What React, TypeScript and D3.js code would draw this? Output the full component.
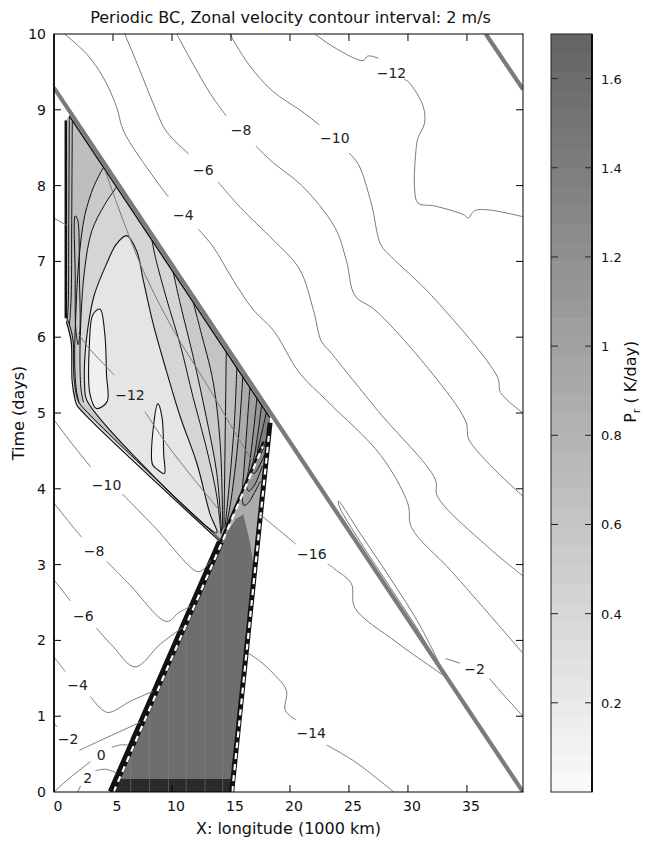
import React, { useEffect, useRef } from "react";
import * as d3 from "d3";

type Pt = [number, number];

// ---------------- axes ----------------
const xTicks = [0, 5, 10, 15, 20, 25, 30, 35];
const tTicks = [0, 1, 2, 3, 4, 5, 6, 7, 8, 9, 10];
const cbTicks = [0.2, 0.4, 0.6, 0.8, 1, 1.2, 1.4, 1.6];

// ---------------- front (thick gray line), periodic wrap ----------------
const front: Pt[] = [[0, 9.29], [39.75, 0]];
const frontWrap: Pt[] = [[36.6, 10], [39.75, 9.27]];

// ---------------- zonal velocity contours, upper family ----------------
const uM12a: Pt[] = [[22.1, 10], [24.0, 9.8], [26.2, 9.65], [26.6, 9.71], [27.5, 9.68]];
const uM12b: Pt[] = [[29.7, 9.4], [30.1, 9.36], [31.3, 9.04], [31.4, 8.82], [30.85, 8.63], [30.7, 8.5], [30.56, 7.96], [30.85, 7.77], [32.3, 7.73], [34.8, 7.61], [35.1, 7.57], [35.65, 7.67], [36.8, 7.68], [39.75, 7.59]];
const uM10a: Pt[] = [[14.9, 10], [16.5, 9.6], [18.5, 9.25], [21.0, 8.98], [22.5, 8.8]];
const uM10b: Pt[] = [[25.0, 8.43], [25.8, 8.28], [26.9, 7.76], [27.7, 7.22], [28.6, 7.06], [32.0, 6.55], [37.6, 5.47], [37.85, 5.27], [39.75, 5.0]];
const uM8a: Pt[] = [[10.4, 10], [11.8, 9.6], [13.3, 9.2], [14.6, 8.92]];
const uM8b: Pt[] = [[17.1, 8.52], [18.6, 8.3], [21.0, 8.0], [23.8, 7.45], [24.8, 7.0], [25.5, 6.55], [27.2, 6.36], [31.7, 5.59], [34.9, 4.89], [35.2, 4.64], [39.75, 3.9]];
const uM6a: Pt[] = [[6.0, 10], [7.2, 9.55], [8.5, 9.05], [9.5, 8.72], [11.4, 8.42]];
const uM6b: Pt[] = [[13.9, 8.05], [15.8, 7.71], [18.6, 7.28], [20.8, 6.9], [22.0, 6.35], [22.65, 5.95], [23.5, 5.79], [27.5, 5.02], [32.3, 4.13], [32.5, 3.9], [36.8, 3.23], [39.75, 2.85]];
const uM4a: Pt[] = [[0.9, 10], [2.8, 9.73], [4.2, 9.42], [5.3, 9.04], [5.9, 8.72], [8.5, 8.1], [9.7, 7.85]];
const uM4b: Pt[] = [[12.2, 7.43], [13.5, 7.19], [15.2, 6.75], [16.9, 6.36], [18.6, 6.09], [20.8, 5.53], [23.2, 5.15], [27.7, 4.44], [30.0, 3.8], [30.3, 3.49], [33.7, 2.91], [39.75, 1.83]];

// lower right family
const uM2a: Pt[] = [[33.2, 1.76], [34.4, 1.7]];
const uM2b: Pt[] = [[36.9, 1.5], [38.0, 1.3], [39.75, 1.0]];
const uM16a: Pt[] = [[17.46, 3.66], [19.5, 3.4], [20.5, 3.27]];
const uM16b: Pt[] = [[23.2, 3.01], [23.8, 2.94], [25.2, 2.75], [25.5, 2.43], [29.0, 1.98], [32.8, 1.56], [33.15, 1.52]];
const uM14a: Pt[] = [[16.5, 1.83], [17.5, 1.72], [18.6, 1.56], [19.7, 1.34], [19.6, 1.08], [20.5, 0.95]];
const uM14b: Pt[] = [[23.1, 0.62], [25.5, 0.4], [28.8, 0]];
const lens: Pt[] = [[24.1, 3.84], [26.0, 3.4], [28.5, 2.82], [31.0, 2.2], [33.15, 1.52], [31.0, 2.1], [28.5, 2.7], [26.0, 3.29], [24.2, 3.76]];

// lower left family
const lM10a: Pt[] = [[0, 4.91], [1.5, 4.6], [3.1, 4.29]];
const lM10b: Pt[] = [[5.8, 3.93], [8.5, 3.5], [12.1, 2.91], [12.6, 2.93], [13.3, 3.06]];
const lM8a: Pt[] = [[0, 3.81], [1.6, 3.5], [2.35, 3.36]];
const lM8b: Pt[] = [[4.5, 3.04], [6.5, 2.72], [9.55, 2.25], [10.6, 2.37], [11.6, 2.45]];
const lM6a: Pt[] = [[0, 2.8], [1.0, 2.6], [1.4, 2.52]];
const lM6b: Pt[] = [[3.6, 2.16], [5.0, 1.92], [6.86, 1.65], [9.0, 1.95], [10.9, 2.17]];
const lM4a: Pt[] = [[0, 1.78], [0.8, 1.62], [0.95, 1.59]];
const lM4b: Pt[] = [[3.1, 1.26], [4.5, 1.05], [6.5, 1.2], [8.4, 1.33]];
const lM2a: Pt[] = [[0, 0.91], [0.25, 0.86]];
const lM2b: Pt[] = [[2.15, 0.55], [4.5, 0.72], [7.3, 0.92]];
const l0a: Pt[] = [[0, 0], [1.2, 0.17], [3.1, 0.4]];
const l0b: Pt[] = [[4.9, 0.59], [5.6, 0.62], [6.3, 0.62]];
const l2a: Pt[] = [[2.0, 0], [2.25, 0.08]];
const l2b: Pt[] = [[3.5, 0.28], [4.4, 0.3], [5.3, 0.25]];

// inside the heating region
const roofM12a: Pt[] = [[2.05, 6.05], [3.0, 5.85], [4.5, 5.6], [5.1, 5.5]];
const roofM12b: Pt[] = [[7.7, 5.02], [9.5, 4.6], [12.0, 4.1], [14.1, 3.7]];
const roofDiag: Pt[] = [[4.33, 8.2], [7.3, 6.97], [10.1, 6.1], [12.9, 5.39], [15.2, 4.78], [16.9, 4.34]];
const leftStub: Pt[] = [[0, 7.57], [1.05, 7.48]];

const velLabels = [
  { text: "−12", x: 28.6, t: 9.48 },
  { text: "−10", x: 23.8, t: 8.63 },
  { text: "−8", x: 15.85, t: 8.73 },
  { text: "−6", x: 12.65, t: 8.21 },
  { text: "−4", x: 10.96, t: 7.61 },
  { text: "−12", x: 6.44, t: 5.24 },
  { text: "−10", x: 4.46, t: 4.05 },
  { text: "−8", x: 3.4, t: 3.18 },
  { text: "−6", x: 2.49, t: 2.32 },
  { text: "−4", x: 2.0, t: 1.41 },
  { text: "−2", x: 1.2, t: 0.7 },
  { text: "0", x: 4.0, t: 0.49 },
  { text: "2", x: 2.85, t: 0.19 },
  { text: "−16", x: 21.85, t: 3.14 },
  { text: "−14", x: 21.8, t: 0.78 },
  { text: "−2", x: 35.65, t: 1.62 },
];

// ---------------- P_r shading (K/day) ----------------
const roofOuter: Pt[] = [[1.0, 8.86], [1.3, 8.92], [18.3, 4.94], [18.31, 4.87], [17.26, 3.3], [16.13, 1.6], [15.06, 0], [4.85, 0], [14.1, 3.3], [2.2, 5.06], [1.7, 5.25], [1.5, 5.9], [1.05, 6.2]];
const capA: Pt[] = [[4.2, 8.24], [14.6, 5.81], [14.55, 5.2], [14.5, 4.6], [14.45, 4.0], [14.4, 3.45], [2.15, 5.12], [1.9, 5.3], [1.75, 5.7], [1.85, 6.3], [2.1, 7.0], [2.6, 7.6], [3.4, 8.0]];
const capB: Pt[] = [[5.3, 7.98], [10.1, 6.86], [10.7, 6.44], [11.8, 5.74], [12.9, 4.95], [13.8, 4.2], [14.2, 3.42], [2.5, 5.14], [2.3, 5.3], [2.2, 5.7], [2.3, 6.3], [2.6, 6.9], [3.2, 7.4], [4.3, 7.75]];
const peak: Pt[] = [[6.16, 7.34], [7.0, 7.14], [7.57, 6.75], [8.4, 6.18], [9.5, 5.57], [10.7, 4.95], [12.1, 4.34], [13.2, 3.68], [13.8, 3.42], [2.8, 5.16], [2.6, 5.35], [2.6, 5.7], [2.85, 6.1], [3.4, 6.55], [4.46, 6.97], [5.3, 7.23]];
const tongue1: Pt[] = [[3.05, 5.25], [3.0, 5.9], [3.3, 6.3], [3.9, 6.37], [4.3, 6.05], [4.45, 5.5], [4.5, 5.15], [3.6, 5.06]];
const tongue2: Pt[] = [[8.35, 4.32], [8.45, 4.85], [8.8, 5.12], [9.15, 4.95], [9.3, 4.45], [9.35, 4.2], [8.8, 4.25]];
const stripLoop: Pt[] = [[1.8, 7.6], [2.0, 7.55], [2.15, 6.8], [2.2, 6.1], [2.05, 5.9], [1.85, 6.1], [1.8, 6.8]];

const f1: Pt[] = [[8.3, 7.28], [8.6, 7.05], [9.55, 6.5], [10.7, 5.9], [11.8, 5.2], [12.9, 4.55], [13.8, 3.9], [14.15, 3.4]];
const f2: Pt[] = [[10.1, 6.86], [10.7, 6.44], [11.8, 5.74], [12.9, 4.95], [13.8, 4.2], [14.2, 3.42]];
const f3: Pt[] = [[11.8, 6.46], [12.4, 6.1], [13.5, 5.4], [14.1, 4.56], [14.3, 3.45]];
const f4: Pt[] = [[14.6, 5.81], [14.55, 5.2], [14.5, 4.6], [14.45, 4.0], [14.4, 3.48]];
const f5: Pt[] = [[15.5, 5.6], [15.3, 4.9], [15.0, 4.3], [14.7, 3.8], [14.5, 3.5]];
const f6: Pt[] = [[16.0, 5.48], [15.7, 4.8], [15.3, 4.2], [14.9, 3.75], [14.6, 3.52]];
const f7: Pt[] = [[16.6, 5.34], [16.35, 4.8], [16.1, 4.25], [15.95, 3.9], [16.1, 3.78], [16.5, 3.82], [17.0, 3.95], [17.5, 4.1]];
const f8: Pt[] = [[17.2, 5.2], [16.9, 4.75], [16.55, 4.3], [16.3, 4.05], [16.5, 3.97], [17.0, 4.05], [17.65, 4.3]];
const f9: Pt[] = [[17.6, 5.11], [17.3, 4.75], [17.0, 4.45], [16.75, 4.25], [16.95, 4.2], [17.4, 4.3], [17.85, 4.45]];
const f10: Pt[] = [[18.0, 5.01], [17.7, 4.8], [17.4, 4.6], [17.25, 4.48], [17.45, 4.45], [17.9, 4.6], [18.2, 4.75]];
const fanLines = [f1, f2, f3, f4, f5, f6, f7, f8, f9, f10];
const fanValues = [0.42, 0.55, 0.62, 0.68, 0.78, 0.9, 1.02, 1.14, 1.26, 1.38];

const wedgeClose: Pt[] = [[15.4, 3.6], [16.05, 3.66], [17.0, 2.9], [17.26, 3.3], [18.31, 4.87], [18.3, 4.94]];
const bandClose: Pt[] = [[18.31, 4.87], [18.3, 4.94]];

const darkWedge: Pt[] = [[4.85, 0], [14.1, 3.3], [15.4, 3.6], [16.05, 3.66], [16.6, 3.3], [17.0, 2.9], [16.5, 2.1], [16.0, 1.4], [15.5, 0.7], [15.06, 0]];
const bottomStrip: Pt[] = [[4.85, 0], [5.3, 0.17], [15.17, 0.17], [15.06, 0]];
const gridX = [6.5, 8.1, 9.7, 11.2, 12.8, 14.3];

const roofTop: Pt[] = [[1.3, 8.92], [18.3, 4.94]];
const roofLeft: Pt[] = [[1.0, 8.86], [1.0, 6.25]];
const stripA: Pt[] = [[1.3, 8.9], [1.25, 7.5], [1.2, 6.4], [1.1, 6.2]];
const stripB: Pt[] = [[1.55, 8.85], [1.5, 7.5], [1.45, 6.5], [1.3, 6.15]];
const roofBottom1: Pt[] = [[1.05, 6.2], [1.45, 5.95], [1.55, 5.4], [1.9, 5.12], [2.2, 5.05], [14.1, 3.3]];
const roofBottom2: Pt[] = [[1.2, 6.22], [1.6, 5.98], [1.7, 5.45], [2.0, 5.18], [2.3, 5.1], [14.1, 3.33]];
const leftBand: Pt[] = [[4.85, 0], [14.1, 3.3]];
const leftBandUpper: Pt[] = [[14.1, 3.3], [17.75, 4.62]];
const rightBand: Pt[] = [[15.06, 0], [16.13, 1.6], [17.26, 3.3], [18.31, 4.87]];
const leftDash: Pt[] = [[5.05, 0], [14.2, 3.28], [17.7, 4.56]];
const rightDash: Pt[] = [[15.1, 0], [18.22, 4.72]];

export default function App() {
  const ref = useRef<SVGSVGElement>(null);

  useEffect(() => {
    const svg = d3.select(ref.current);
    svg.selectAll("*").remove();

    const m = { left: 54, right: 523, top: 34, bottom: 792 };
    const x = d3.scaleLinear().domain([0, 39.75]).range([m.left, m.right]);
    const y = d3.scaleLinear().domain([0, 10]).range([m.bottom, m.top]);
    const pr = d3.scaleLinear<string>().domain([0, 1.7]).range(["#fbfbfb", "#636363"]);
    const font = "'DejaVu Sans', Verdana, sans-serif";
    const fs = 14;
    const fsBig = 16;

    const line = d3.line<Pt>().x(d => x(d[0])).y(d => y(d[1]));
    const smooth = d3.line<Pt>().x(d => x(d[0])).y(d => y(d[1])).curve(d3.curveCatmullRom.alpha(0.5));
    const closed = d3.line<Pt>().x(d => x(d[0])).y(d => y(d[1])).curve(d3.curveLinearClosed);
    const closedSmooth = d3.line<Pt>().x(d => x(d[0])).y(d => y(d[1])).curve(d3.curveCatmullRomClosed.alpha(0.5));

    svg.append("rect").attr("width", 645).attr("height", 844).attr("fill", "#fff");

    const defs = svg.append("defs");
    defs.append("clipPath").attr("id", "plotClip").append("rect")
      .attr("x", m.left).attr("y", m.top)
      .attr("width", m.right - m.left).attr("height", m.bottom - m.top);
    defs.append("clipPath").attr("id", "wedgeClip").append("path").attr("d", closed(darkWedge));

    const g = svg.append("g").attr("clip-path", "url(#plotClip)");

    // ---------------- shading ----------------
    g.append("path").attr("d", closed(roofOuter)).attr("fill", pr(0.68));
    g.append("path").attr("d", closed(capA)).attr("fill", pr(0.55));
    g.append("path").attr("d", closed(capB)).attr("fill", pr(0.42));
    g.append("path").attr("d", closedSmooth(peak)).attr("fill", pr(0.25));
    [tongue1, tongue2].forEach(tg => g.append("path").attr("d", closedSmooth(tg)).attr("fill", pr(0.12)));

    fanLines.forEach((f, i) => {
      if (i < 2) return;
      const tail = i < 6 ? wedgeClose : bandClose;
      g.append("path").attr("d", closed([...f, ...tail])).attr("fill", pr(fanValues[i]));
    });

    g.append("path").attr("d", closed(darkWedge)).attr("fill", pr(1.58));
    g.append("g").attr("clip-path", "url(#wedgeClip)")
      .selectAll("line").data(gridX).join("line")
      .attr("x1", d => x(d)).attr("x2", d => x(d))
      .attr("y1", y(0)).attr("y2", y(4))
      .attr("stroke", "#7d7d7d").attr("stroke-width", 0.8);
    g.append("path").attr("d", closed(bottomStrip)).attr("fill", "#2a2a2a");
    g.selectAll("line.strip").data(gridX).join("line").attr("class", "strip")
      .attr("x1", d => x(d)).attr("x2", d => x(d))
      .attr("y1", y(0)).attr("y2", y(0.17))
      .attr("stroke", "#5a5a5a").attr("stroke-width", 1);

    // ---------------- black P_r contours ----------------
    const black = (d: string | null, w = 1) =>
      g.append("path").attr("d", d).attr("fill", "none").attr("stroke", "#111").attr("stroke-width", w);
    black(line(roofTop), 1.5);
    black(line(roofLeft), 2.5);
    black(smooth(stripA), 1);
    black(smooth(stripB), 1);
    black(smooth(roofBottom1), 1.2);
    black(smooth(roofBottom2), 1);
    black(closedSmooth(stripLoop), 1);
    black(smooth(capA.slice(6).concat([[4.2, 8.24]] as Pt[])), 1);
    black(smooth(capB.slice(7).concat([[5.3, 7.98]] as Pt[])), 1);
    black(closedSmooth(peak), 1.1);
    black(closedSmooth(tongue1), 1.1);
    black(closedSmooth(tongue2), 1.1);
    fanLines.forEach(f => black(smooth(f), 1));
    black(line(leftBand), 7);
    black(line(leftBandUpper), 2.5);
    black(smooth(rightBand), 5);
    g.append("path").attr("d", line(leftDash)).attr("fill", "none")
      .attr("stroke", "#fff").attr("stroke-width", 2.2).attr("stroke-dasharray", "6 5");
    g.append("path").attr("d", line(rightDash)).attr("fill", "none")
      .attr("stroke", "#fff").attr("stroke-width", 2.2).attr("stroke-dasharray", "6 5");

    // ---------------- velocity contours ----------------
    const velSegs = [
      uM12a, uM12b, uM10a, uM10b, uM8a, uM8b, uM6a, uM6b, uM4a, uM4b,
      uM2a, uM2b, uM16a, uM16b, uM14a, uM14b,
      lM10a, lM10b, lM8a, lM8b, lM6a, lM6b, lM4a, lM4b, lM2a, lM2b, l0a, l0b, l2a, l2b,
      roofM12a, roofM12b, roofDiag, leftStub,
    ];
    g.selectAll("path.vel").data(velSegs).join("path").attr("class", "vel")
      .attr("d", d => smooth(d)).attr("fill", "none")
      .attr("stroke", "#7a7a7a").attr("stroke-width", 1);
    g.append("path").attr("d", closedSmooth(lens)).attr("fill", "none")
      .attr("stroke", "#7a7a7a").attr("stroke-width", 1);

    // front
    [front, frontWrap].forEach(fr =>
      g.append("path").attr("d", line(fr)).attr("stroke", "#7b7b7b").attr("stroke-width", 4.2).attr("fill", "none"));

    g.selectAll("text.vl").data(velLabels).join("text").attr("class", "vl")
      .attr("x", d => x(d.x)).attr("y", d => y(d.t))
      .attr("text-anchor", "middle").attr("dominant-baseline", "central")
      .attr("font-family", font).attr("font-size", fs).attr("fill", "#222")
      .text(d => d.text);

    // ---------------- axes box ----------------
    svg.append("rect").attr("x", m.left).attr("y", m.top)
      .attr("width", m.right - m.left).attr("height", m.bottom - m.top)
      .attr("fill", "none").attr("stroke", "#000").attr("stroke-width", 1);
    svg.append("line").attr("x1", m.left).attr("x2", m.left).attr("y1", m.top).attr("y2", m.bottom)
      .attr("stroke", "#000").attr("stroke-width", 1.6);
    const tk = 7;
    xTicks.forEach(v => {
      if (v === 0) return;
      svg.append("line").attr("x1", x(v)).attr("x2", x(v)).attr("y1", m.bottom).attr("y2", m.bottom - tk).attr("stroke", "#000");
      svg.append("line").attr("x1", x(v)).attr("x2", x(v)).attr("y1", m.top).attr("y2", m.top + tk).attr("stroke", "#000");
    });
    tTicks.forEach(v => {
      if (v === 0 || v === 10) return;
      svg.append("line").attr("x1", m.left).attr("x2", m.left + tk).attr("y1", y(v)).attr("y2", y(v)).attr("stroke", "#000");
      svg.append("line").attr("x1", m.right).attr("x2", m.right - tk).attr("y1", y(v)).attr("y2", y(v)).attr("stroke", "#000");
    });
    svg.selectAll("text.xt").data(xTicks).join("text").attr("class", "xt")
      .attr("x", d => x(d) + 4).attr("y", m.bottom + 19)
      .attr("text-anchor", "middle").attr("font-family", font).attr("font-size", fs).attr("fill", "#111")
      .text(d => String(d));
    svg.selectAll("text.yt").data(tTicks).join("text").attr("class", "yt")
      .attr("x", m.left - 8).attr("y", d => y(d) + 5)
      .attr("text-anchor", "end").attr("font-family", font).attr("font-size", fs).attr("fill", "#111")
      .text(d => String(d));

    svg.append("text").attr("x", (m.left + m.right) / 2 + 2).attr("y", 23)
      .attr("text-anchor", "middle").attr("font-family", font).attr("font-size", fsBig).attr("fill", "#111")
      .text("Periodic BC, Zonal velocity contour interval: 2 m/s");
    svg.append("text").attr("x", (m.left + m.right) / 2).attr("y", 834)
      .attr("text-anchor", "middle").attr("font-family", font).attr("font-size", fsBig).attr("fill", "#111")
      .text("X: longitude (1000 km)");
    svg.append("text").attr("transform", `translate(24,${(m.top + m.bottom) / 2}) rotate(-90)`)
      .attr("text-anchor", "middle").attr("font-family", font).attr("font-size", fsBig).attr("fill", "#111")
      .text("Time (days)");

    // ---------------- colorbar ----------------
    const cb = { left: 551, right: 592, top: 34, bottom: 792 };
    const cy = d3.scaleLinear().domain([0, 1.7]).range([cb.bottom, cb.top]);
    const nBands = 40;
    const bands = d3.range(nBands).map(i => [i * 1.7 / nBands, (i + 1) * 1.7 / nBands]);
    svg.selectAll("rect.band").data(bands).join("rect").attr("class", "band")
      .attr("x", cb.left).attr("width", cb.right - cb.left)
      .attr("y", d => cy(d[1])).attr("height", d => cy(d[0]) - cy(d[1]) + 0.5)
      .attr("fill", d => pr((d[0] + d[1]) / 2));
    svg.append("rect").attr("x", cb.left).attr("y", cb.top)
      .attr("width", cb.right - cb.left).attr("height", cb.bottom - cb.top)
      .attr("fill", "none").attr("stroke", "#222").attr("stroke-width", 1);
    svg.append("line").attr("x1", cb.right).attr("x2", cb.right).attr("y1", cb.top).attr("y2", cb.bottom)
      .attr("stroke", "#000").attr("stroke-width", 1.8);
    cbTicks.forEach(v => {
      svg.append("line").attr("x1", cb.left).attr("x2", cb.left + tk).attr("y1", cy(v)).attr("y2", cy(v)).attr("stroke", "#222");
      svg.append("line").attr("x1", cb.right).attr("x2", cb.right - tk).attr("y1", cy(v)).attr("y2", cy(v)).attr("stroke", "#222");
    });
    svg.selectAll("text.ct").data(cbTicks).join("text").attr("class", "ct")
      .attr("x", cb.right + 9).attr("y", d => cy(d) + 5)
      .attr("font-family", font).attr("font-size", 13).attr("fill", "#111")
      .text(d => String(d));
    const lab = svg.append("text").attr("transform", `translate(636,${cy(0.92)}) rotate(-90)`)
      .attr("text-anchor", "middle").attr("font-family", font).attr("font-size", fsBig).attr("fill", "#111");
    lab.append("tspan").text("P");
    lab.append("tspan").attr("font-size", 11).attr("dy", 4).text("r");
    lab.append("tspan").attr("dy", -4).text(" ( K/day)");
  }, []);

  return (
    <svg ref={ref} width={645} height={844}
      style={{ position: "absolute", left: 0, top: 0, display: "block" }} />
  );
}
